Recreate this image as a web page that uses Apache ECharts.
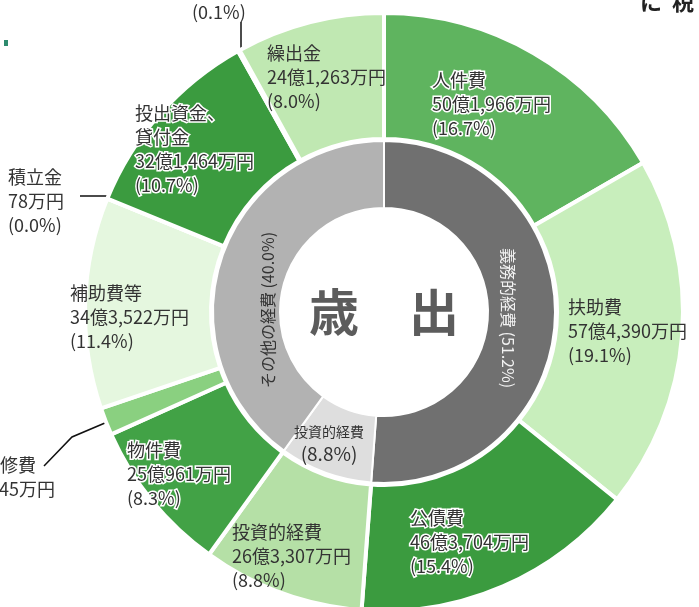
<!DOCTYPE html>
<html>
<head>
<meta charset="utf-8">
<script src="https://cdn.jsdelivr.net/npm/echarts@6/dist/echarts.min.js"></script>
<style>
html, body { margin: 0; padding: 0; background: #fff; }
#chart { width: 699px; height: 607px; }
</style>
</head>
<body>
<div id="chart"></div>
<script>
// 歳出（性質別）単位：万円
var outerNames = ['人件費', '扶助費', '公債費', '投資的経費', '物件費', '維持補修費', '補助費等', '積立金', '投出資金、\n貸付金', '予備費', '繰出金'];
var outerValues = [501966, 574390, 463704, 263307, 250961, 44545, 343522, 78, 321464, 3000, 241263];
var outerAmounts = ['50億1,966万円', '57億4,390万円', '46億3,704万円', '26億3,307万円', '25億961万円', '4億4,545万円', '34億3,522万円', '78万円', '32億1,464万円', '3,000万円', '24億1,263万円'];
var outerPct = ['16.7', '19.1', '15.4', '8.8', '8.3', '1.5', '11.4', '0.0', '10.7', '0.1', '8.0'];

var innerNames = ['義務的経費', '投資的経費', 'その他の経費'];
var innerValues = [1540060, 263307, 1204833];
var innerPct = ['51.2', '8.8', '40.0'];

// 見た目の設定
var outerColors = ['#5fb45f', '#c8eebc', '#3b9b3f', '#b5e0a6', '#42a246', '#8ad080', '#e5f7df', '#3b9b3f', '#3b9b3f', '#3b9b3f', '#c0e8b2'];
var darkSlice = [true, false, true, false, true, false, false, false, true, false, false];
var outsideLabel = [false, false, false, false, false, true, false, true, false, true, false];
var outerLabelPos = [
  [432, 68], [568, 295], [410, 506], [232, 520], [127, 438], [-54, 453],
  [70, 281], [8, 165], [135, 101], [192, -48], [267, 41]
];
var leaderPts = {
  5: [[44, 466], [72, 437], [112, 420]],
  7: [[80, 196], [106, 196], [111, 200]],
  9: [[241, 22], [241, 57]]
};
var innerColors = ['#707070', '#dedede', '#b2b2b2'];
var innerLabelPos = [[508, 318, -90], [329, 444, 0], [268, 310, 90]];

var font = '"Noto Sans CJK JP", sans-serif';

var outerData = outerNames.map(function (n, i) {
  var item = {
    name: n,
    value: outerValues[i],
    itemStyle: { color: outerColors[i] }
  };
  var lab = {};
  if (darkSlice[i]) {
    lab.textBorderColor = '#fff';
    lab.textBorderWidth = 3;
  }
  if (outsideLabel[i]) {
    lab.position = 'outside';
    item.labelLine = { show: true, lineStyle: { color: '#111', width: 1.5 } };
  }
  item.label = lab;
  return item;
});

var innerData = innerNames.map(function (n, i) {
  var d = { name: n, value: innerValues[i], itemStyle: { color: innerColors[i] } };
  if (i === 0) d.label = { color: '#f2f2f2' };
  return d;
});

var chart = echarts.init(document.getElementById('chart'));
chart.setOption({
  animation: false,
  backgroundColor: '#fff',
  graphic: [
    {
      type: 'text', x: 384, y: 312,
      style: {
        text: '歳　出', x: 0, y: 0, align: 'center', verticalAlign: 'middle',
        font: 'bold 50px ' + font, fill: '#5c5c5c'
      }
    },
    {
      type: 'text', x: 640, y: -9,
      style: { text: 'に  税', font: 'bold 22px ' + font, fill: '#222' }
    },
    {
      type: 'rect', shape: { x: 4, y: 40, width: 4, height: 6 },
      style: { fill: '#2e8b6e' }
    }
  ],
  series: [
    {
      name: '性質別',
      type: 'pie',
      center: [384, 312],
      radius: [173, 299],
      startAngle: 90,
      clockwise: true,
      avoidLabelOverlap: false,
      itemStyle: { borderColor: '#fff', borderWidth: 4 },
      label: {
        show: true,
        position: 'inside',
        fontFamily: 'Noto Sans CJK JP',
        fontSize: 18,
        lineHeight: 24,
        color: '#333',
        formatter: function (p) {
          var i = p.dataIndex;
          if (i === 5) return outerNames[i] + '\n' + outerAmounts[i];
          return outerNames[i] + '\n' + outerAmounts[i] + '\n(' + outerPct[i] + '%)';
        }
      },
      labelLine: { show: false },
      labelLayout: function (params) {
        var i = params.dataIndex;
        var pos = outerLabelPos[i];
        var out = { x: pos[0], y: pos[1], align: 'left', verticalAlign: 'top' };
        if (leaderPts[i]) out.labelLinePoints = leaderPts[i];
        return out;
      },
      emphasis: { disabled: true },
      data: outerData
    },
    {
      name: '大分類',
      type: 'pie',
      center: [384, 312],
      radius: [104, 171],
      startAngle: 90,
      clockwise: true,
      avoidLabelOverlap: false,
      itemStyle: { borderColor: '#fff', borderWidth: 2 },
      label: {
        show: true,
        position: 'inside',
        fontFamily: 'Noto Sans CJK JP',
        fontSize: 16,
        color: '#333',
        formatter: function (p) {
          var i = p.dataIndex;
          if (i === 1) return '{a|' + innerNames[i] + '}\n{b|(' + innerPct[i] + '%)}';
          return innerNames[i] + ' (' + innerPct[i] + '%)';
        },
        rich: {
          a: { fontSize: 14, lineHeight: 20, color: '#333', fontFamily: 'Noto Sans CJK JP' },
          b: { fontSize: 19, lineHeight: 24, color: '#333', fontFamily: 'Noto Sans CJK JP' }
        }
      },
      labelLine: { show: false },
      labelLayout: function (params) {
        var p = innerLabelPos[params.dataIndex];
        return { x: p[0], y: p[1], rotate: p[2], align: 'center', verticalAlign: 'middle' };
      },
      emphasis: { disabled: true },
      data: innerData
    }
  ]
});
</script>
</body>
</html>
